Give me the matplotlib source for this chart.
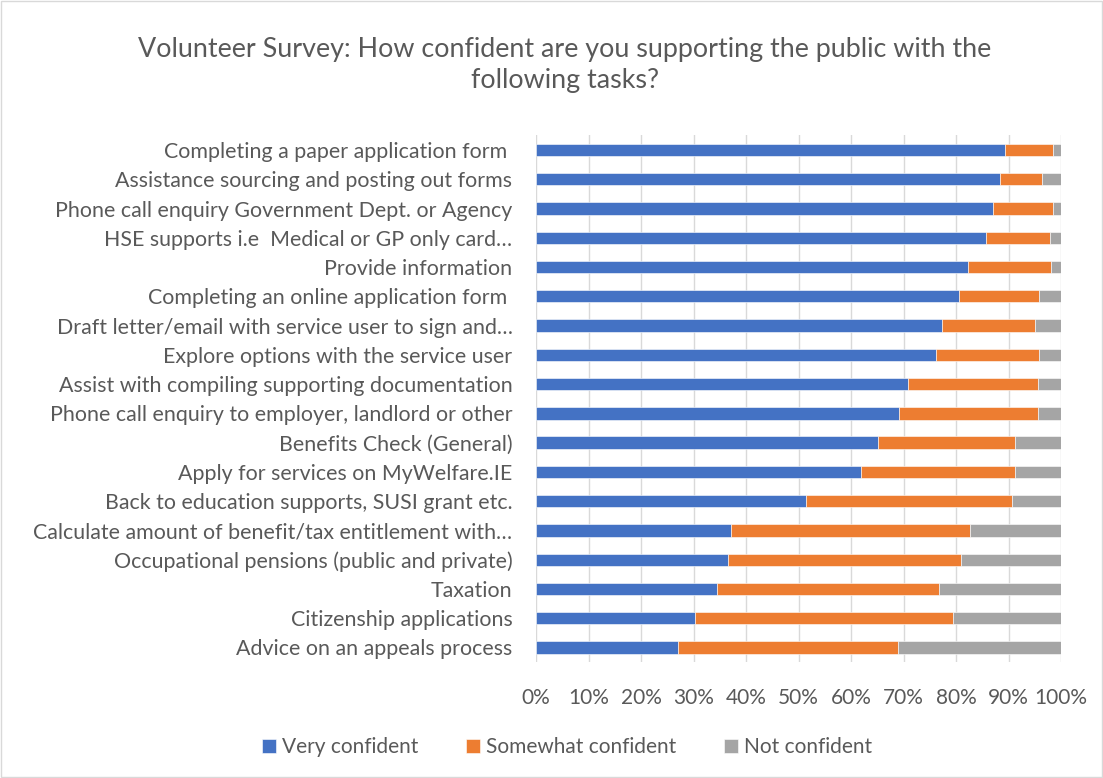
import matplotlib.pyplot as plt
import matplotlib.patches as mpatches
import numpy as np

plt.rcParams['font.family'] = ['Lato', 'DejaVu Sans']

tasks = [
    "Completing a paper application form ",
    "Assistance sourcing and posting out forms",
    "Phone call enquiry Government Dept. or Agency",
    "HSE supports i.e  Medical or GP only card\u2026",
    "Provide information",
    "Completing an online application form ",
    "Draft letter/email with service user to sign and\u2026",
    "Explore options with the service user",
    "Assist with compiling supporting documentation",
    "Phone call enquiry to employer, landlord or other",
    "Benefits Check (General)",
    "Apply for services on MyWelfare.IE",
    "Back to education supports, SUSI grant etc.",
    "Calculate amount of benefit/tax entitlement with\u2026",
    "Occupational pensions (public and private)",
    "Taxation",
    "Citizenship applications",
    "Advice on an appeals process",
]
very = [89.3, 88.3, 87.1, 85.7, 82.2, 80.5, 77.3, 76.1, 70.8, 69.1,
        65.2, 61.8, 51.4, 37.2, 36.5, 34.4, 30.2, 27.1]
somewhat = [9.1, 8.0, 11.4, 12.1, 15.8, 15.2, 17.8, 19.7, 24.8, 26.5,
            26.0, 29.5, 39.3, 45.4, 44.4, 42.3, 49.2, 41.9]
not_conf = [1.6, 3.7, 1.5, 2.2, 2.0, 4.3, 4.9, 4.2, 4.4, 4.4,
            8.8, 8.7, 9.3, 17.4, 19.1, 23.3, 20.6, 31.0]
series = ["Very confident", "Somewhat confident", "Not confident"]
colors = ["#4472C4", "#ED7D31", "#A5A5A5"]
ticks = np.arange(0, 101, 10)

text_col = "#595959"
grid_col = "#D9D9D9"

fig = plt.figure(figsize=(11.03, 7.78), dpi=100)
ax = fig.add_axes([0.486, 0.149, 0.476, 0.677])

y = np.arange(len(tasks))
left = np.zeros(len(tasks))
for vals, name, c in zip([very, somewhat, not_conf], series, colors):
    vals = np.array(vals)
    ax.barh(y, vals, left=left, height=0.42, color=c, label=name,
            edgecolor="white", linewidth=0.4, zorder=3)
    left += vals

ax.set_xlim(0, 100)
ax.set_ylim(len(tasks) - 0.5, -0.5)
ax.set_xticks(ticks)
ax.set_xticklabels([f"{t}%" for t in ticks], fontsize=15, color=text_col)
ax.set_yticks(y)
ax.set_yticklabels(tasks, fontsize=15.4, color=text_col, va="center_baseline")
ax.tick_params(length=0, axis="x", pad=19)
ax.tick_params(length=0, axis="y", pad=17)
ax.xaxis.grid(True, color=grid_col, linewidth=1, zorder=0)
for s in ax.spines.values():
    s.set_visible(False)

fig.text(0.512, 0.916, "Volunteer Survey: How confident are you supporting the public with the\nfollowing tasks?",
         ha="center", va="center", fontsize=19.4, color=text_col, linespacing=1.3)

fig.legend(loc="center", bbox_to_anchor=(0.514, 0.040), ncol=3, frameon=False,
           fontsize=15, labelcolor=text_col, handlelength=0.65, handleheight=0.65,
           handletextpad=0.3, columnspacing=2.3)

fig.patches.append(mpatches.Rectangle((0.001, 0.001), 0.998, 0.998, transform=fig.transFigure,
                                      fill=False, edgecolor=grid_col, linewidth=1))

fig.savefig("out.png", dpi=100)
